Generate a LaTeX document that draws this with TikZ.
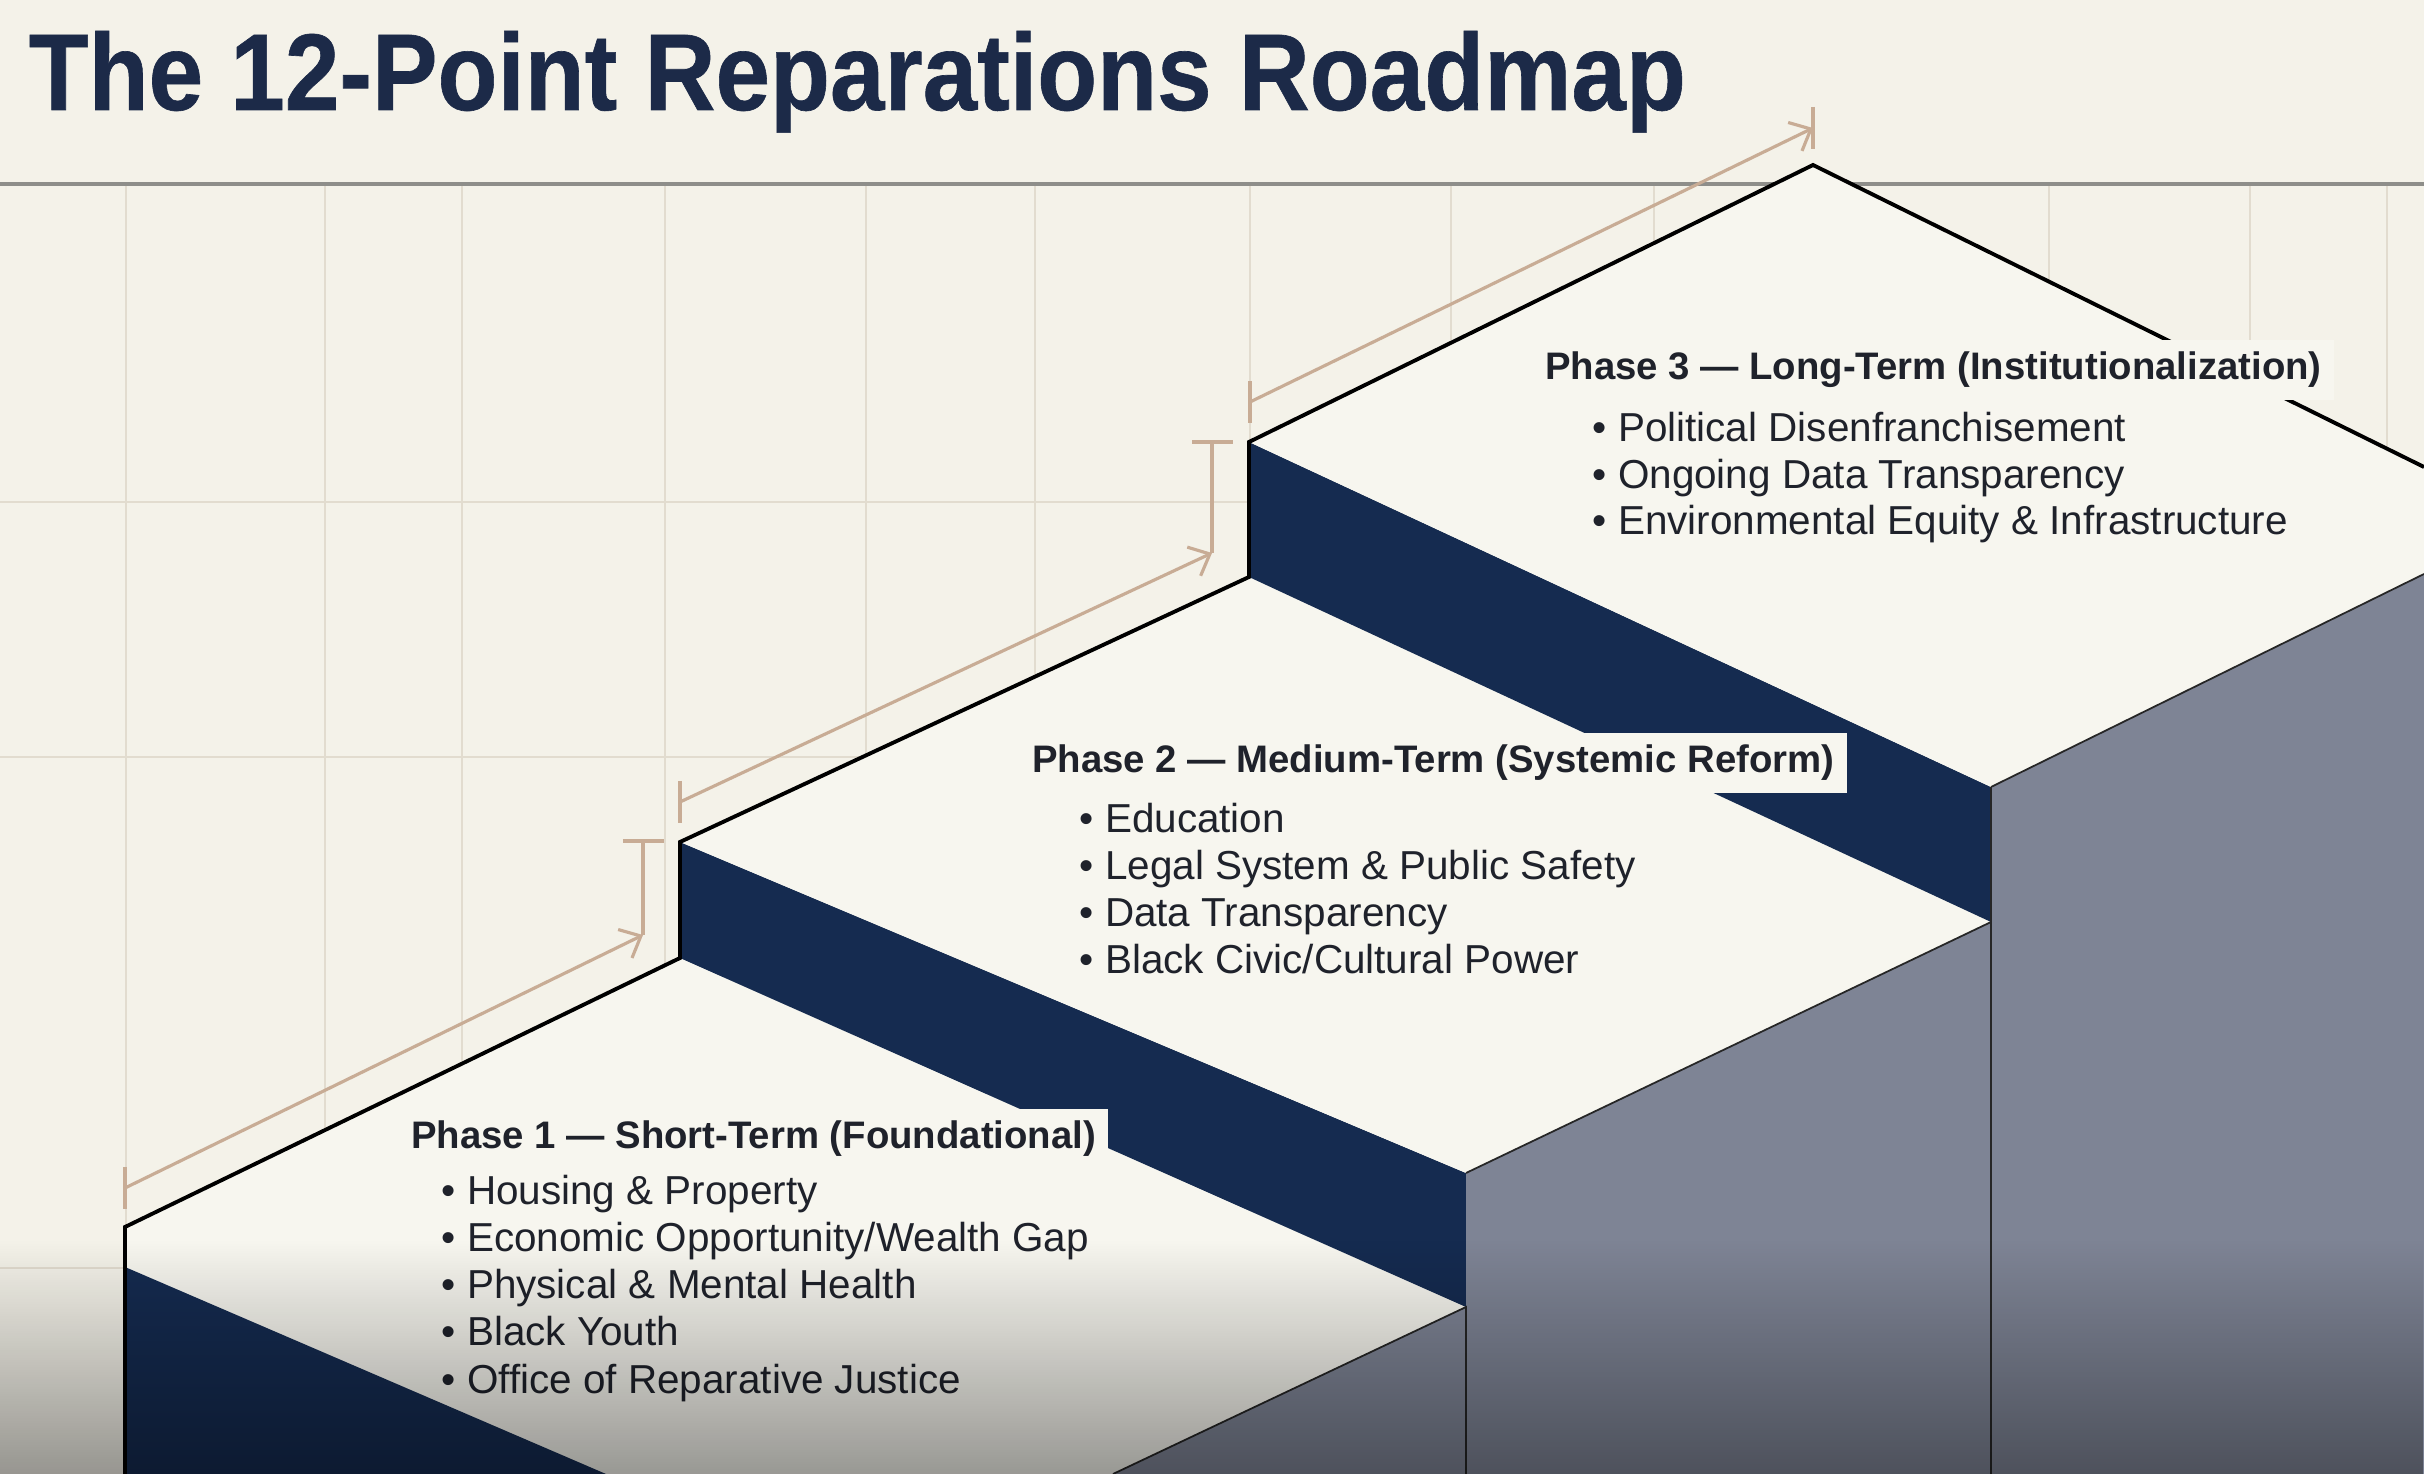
\documentclass[tikz,border=0pt]{standalone}
\usepackage{fontspec}
\usepackage{graphicx}
\setmainfont{Liberation Sans}
\newfontfamily\titlefont{Liberation Sans}[BoldFeatures={FakeBold=0.6}]
\usetikzlibrary{arrows.meta,fadings}

\definecolor{bgcream}{HTML}{F4F2E9}
\definecolor{treadcream}{HTML}{F7F6EF}
\definecolor{gridtan}{HTML}{E2DCCF}
\definecolor{rulegray}{HTML}{8E8E8A}
\definecolor{riser}{HTML}{152B50}
\definecolor{column}{HTML}{7E8495}
\definecolor{dimtan}{HTML}{C8AC95}
\definecolor{titlenavy}{HTML}{1C2A48}
\definecolor{inktext}{HTML}{1F222B}
\tikzfading[name=fadedown, top color=transparent!100, bottom color=transparent!62]

\tikzset{
  gridline/.style={gridtan, line width=0.6pt},
  edge/.style={black, line width=1.1pt, line join=miter},
  seam/.style={black!85, line width=0.5pt},
  dimline/.style={dimtan, line width=0.9pt},
  dimarrow/.style={dimline, -{Straight Barb[length=5pt, width=9pt]}},
  phase/.style={font=\fontsize{10.9}{13}\selectfont\bfseries, text=inktext, fill=treadcream,
    inner xsep=3.5pt, inner ysep=3.5pt, anchor=base west},
  item/.style={font=\fontsize{11.5}{13}\selectfont, text=inktext, inner sep=0pt, anchor=base west},
}

\begin{document}
\begin{tikzpicture}[x=0.01cm, y=-0.01cm]
\useasboundingbox (0,0) rectangle (2424,1474);
\fill[bgcream] (0,0) rectangle (2424,1474);

% grid
\foreach \gx in {126,325,462,665,866,1035,1250,1451,1654,1855,2049,2250,2387}
  \draw[gridline] (\gx,184) -- (\gx,1474);
\foreach \gy in {502,757,1268}
  \draw[gridline] (0,\gy) -- (2424,\gy);
\draw[rulegray, line width=1pt] (0,184) -- (2424,184);

% step 1
\fill[treadcream] (125,1227) -- (680,958) -- (1466,1307) -- (1113,1474) -- (125,1474) -- cycle;
\fill[riser] (125,1267) -- (606,1474) -- (125,1474) -- cycle;
\fill[column] (1113,1474) -- (1466,1307) -- (1466,1474) -- cycle;

% step 2
\fill[riser] (680,842) -- (1466,1173) -- (1466,1307) -- (680,958) -- cycle;
\fill[treadcream] (680,842) -- (1249,577) -- (1991,922) -- (1466,1173) -- cycle;
\fill[column] (1466,1173) -- (1991,922) -- (1991,1474) -- (1466,1474) -- cycle;

% step 3
\fill[riser] (1249,442) -- (1991,787) -- (1991,922) -- (1249,577) -- cycle;
\fill[treadcream] (1249,442) -- (1813,165) -- (2424,467) -- (2424,574) -- (1991,787) -- cycle;
\fill[column] (1991,787) -- (2424,574) -- (2424,1474) -- (1991,1474) -- cycle;

\draw[seam] (1113,1474) -- (1466,1307) -- (1466,1474);
\draw[seam] (1466,1173) -- (1991,922);
\draw[seam] (1991,787) -- (2424,574);
\draw[seam] (1991,787) -- (1991,1474);
\draw[edge] (125,1474) -- (125,1227) -- (680,958) -- (680,842) -- (1249,577)
  -- (1249,442) -- (1813,165) -- (2424,467);

% dimensions
\coordinate (d1s) at (125,1188);
\coordinate (d1e) at (643,935);
\coordinate (d1t) at (643,841);
\coordinate (d2s) at (680,802);
\coordinate (d2e) at (1212,553);
\coordinate (d2t) at (1212,442);
\coordinate (d3s) at (1250,402);
\coordinate (d3e) at (1813,128);

\draw[dimarrow] (d1s) -- (d1e);
\draw[dimline] (d1e) -- (d1t);
\draw[dimarrow] (d2s) -- (d2e);
\draw[dimline] (d2e) -- (d2t);
\draw[dimarrow] (d3s) -- (d3e);
\foreach \c in {d1s,d2s,d3s,d3e}
  \draw[dimline] ([yshift=2.1mm]\c) -- ([yshift=-2.1mm]\c);
\foreach \c in {d1t,d2t}
  \draw[dimline] ([xshift=-2mm]\c) -- ([xshift=2.1mm]\c);

% text
\node[anchor=base west, inner sep=0, text=titlenavy, font=\fontsize{31}{34}\selectfont\titlefont\bfseries]
  (title) at (28,110) {\scalebox{0.9}[1]{The 12-Point Reparations Roadmap}};

\node[phase] (ph1) at (398,1149) {Phase 1 — Short-Term (Foundational)};
\foreach \t [count=\i] in {Housing \& Property, Economic Opportunity/Wealth Gap,
    Physical \& Mental Health, Black Youth, Office of Reparative Justice}
  \node[item] (ph1i\i) at (441,{1205+47*(\i-1)}) {\textbullet\ \t};

\node[phase] (ph2) at (1019,773) {Phase 2 — Medium-Term (Systemic Reform)};
\foreach \t [count=\i] in {Education, Legal System \& Public Safety,
    Data Transparency, Black Civic/Cultural Power}
  \node[item] (ph2i\i) at (1079,{833+47*(\i-1)}) {\textbullet\ \t};

\node[phase] (ph3) at (1532,380) {Phase 3 — Long-Term (Institutionalization)};
\foreach \t [count=\i] in {Political Disenfranchisement, Ongoing Data Transparency,
    Environmental Equity \& Infrastructure}
  \node[item] (ph3i\i) at (1592,{442+46.5*(\i-1)}) {\textbullet\ \t};

% bottom shade
\fill[black, path fading=fadedown] (0,1240) rectangle (2424,1474);
\end{tikzpicture}
\end{document}
